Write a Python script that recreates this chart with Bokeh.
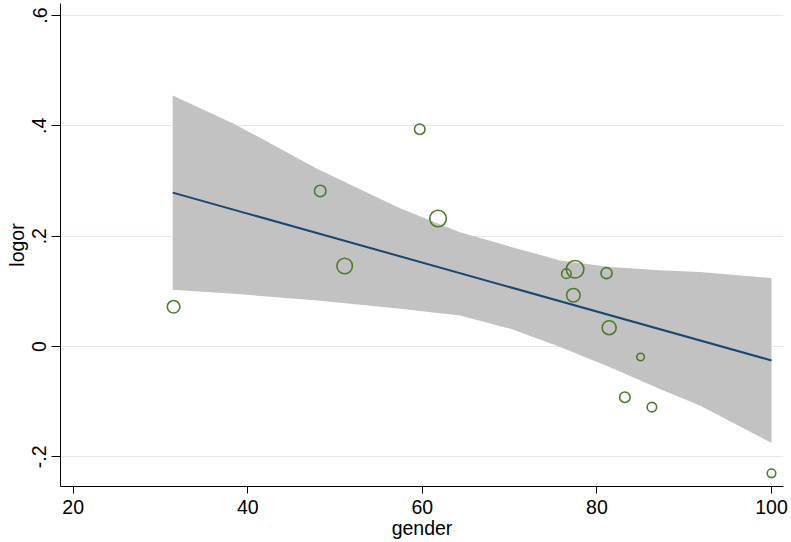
import math
from bokeh.plotting import figure
from bokeh.models import Range1d, FixedTicker
from bokeh.embed import file_html
from bokeh.resources import INLINE

# ---- data ----
gender = [31.5, 48.3, 51.1, 59.7, 61.8, 76.5, 77.5, 77.3, 81.1, 81.4, 85.0, 83.2, 86.3, 100.0]
logor = [0.072, 0.282, 0.146, 0.394, 0.232, 0.132, 0.140, 0.093, 0.133, 0.034, -0.019, -0.092, -0.110, -0.230]
weight = [12.3, 10.6, 18.1, 9.0, 20.3, 7.6, 22.6, 14.1, 9.8, 15.0, 5.1, 9.0, 7.6, 6.3]

fit_x = [31.4, 100.0]
fit_y = [0.279, -0.0254]

band_x = [31.4, 38.4, 48.0, 57.5, 64.3, 70.1, 75.8, 81.5, 87.2, 91.8, 100.0]
band_upper = [0.455, 0.404, 0.322, 0.250, 0.207, 0.181, 0.156, 0.144, 0.138, 0.135, 0.124]
band_lower = [0.103, 0.0955, 0.0834, 0.0683, 0.056, 0.032, -0.001, -0.0375, -0.077, -0.107, -0.175]

x_ticks = [20, 40, 60, 80, 100]
y_ticks = [-0.2, 0.0, 0.2, 0.4, 0.6]
y_tick_labels = ["-.2", "0", ".2", ".4", ".6"]
x_title = "gender"
y_title = "logor"

sizes = [4.0 * math.sqrt(w) - 1.5 for w in weight]

FONT = "Liberation Sans"
FS = "19.5px"

p = figure(width=791, height=542,
           x_range=Range1d(18.545, 101.375), y_range=Range1d(-0.2539, 0.6219),
           output_backend="svg", toolbar_location=None,
           min_border_left=60, min_border_right=8, min_border_top=3, min_border_bottom=56)
p.outline_line_color = None
p.background_fill_color = "white"
p.border_fill_color = "white"

p.varea(x=band_x, y1=band_lower, y2=band_upper, fill_color="#c2c2c2", fill_alpha=1.0)
p.line(fit_x, fit_y, line_color="#1a476f", line_width=2)
p.scatter(gender, logor, size=sizes, marker="circle", fill_color=None,
          line_color="#4f7a28", line_width=1.6)

# grid
p.xgrid.visible = False
p.ygrid.ticker = FixedTicker(ticks=y_ticks)
p.ygrid.grid_line_color = "#e1eaee"
p.ygrid.grid_line_width = 1

# x axis
xa = p.xaxis[0]
xa.ticker = FixedTicker(ticks=x_ticks)
xa.axis_label = x_title
xa.axis_line_color = "black"
xa.major_tick_line_color = "black"
xa.major_tick_out = 7
xa.major_tick_in = 0
xa.minor_tick_out = 0
xa.minor_tick_in = 0
xa.major_label_standoff = 6
xa.axis_label_standoff = 0
xa.major_label_text_font = FONT
xa.major_label_text_font_size = FS
xa.major_label_text_color = "black"
xa.axis_label_text_font = FONT
xa.axis_label_text_font_size = FS
xa.axis_label_text_font_style = "normal"
xa.axis_label_text_color = "black"

# y axis
ya = p.yaxis[0]
ya.ticker = FixedTicker(ticks=y_ticks)
ya.major_label_overrides = {t: s for t, s in zip(y_ticks, y_tick_labels)}
ya.major_label_orientation = "vertical"
ya.axis_label = y_title
ya.axis_line_color = "black"
ya.major_tick_line_color = "black"
ya.major_tick_out = 9
ya.major_tick_in = 0
ya.minor_tick_out = 0
ya.minor_tick_in = 0
ya.major_label_standoff = 5
ya.axis_label_standoff = 2
ya.major_label_text_font = FONT
ya.major_label_text_font_size = FS
ya.major_label_text_color = "black"
ya.axis_label_text_font = FONT
ya.axis_label_text_font_size = FS
ya.axis_label_text_font_style = "normal"
ya.axis_label_text_color = "black"

open("out.html", "w").write(file_html(p, INLINE))
